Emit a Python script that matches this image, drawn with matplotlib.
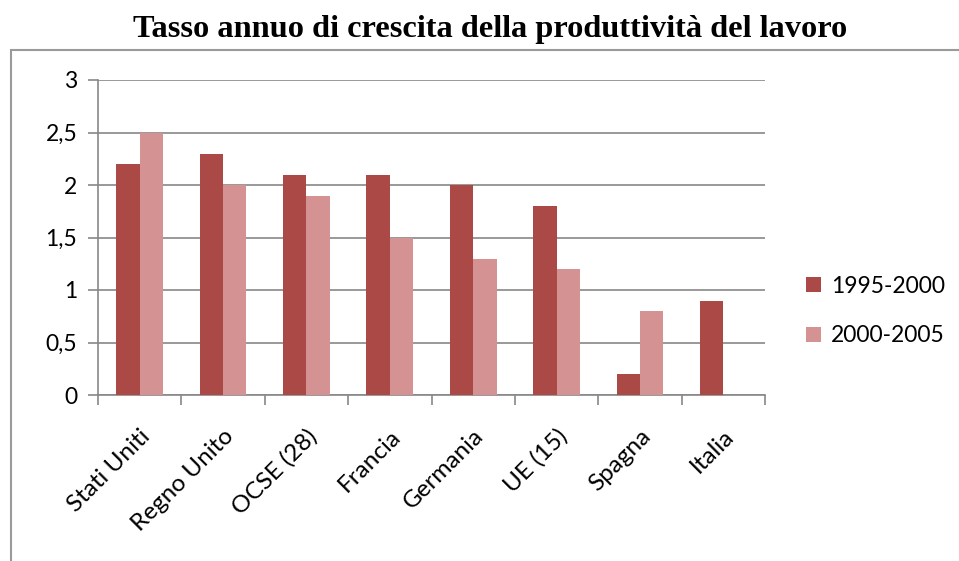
import matplotlib.pyplot as plt
import numpy as np
from matplotlib.patches import Rectangle
from matplotlib.ticker import FuncFormatter, MultipleLocator

paesi = ["Stati Uniti", "Regno Unito", "OCSE (28)", "Francia", "Germania",
         "UE (15)", "Spagna", "Italia"]
serie_1995_2000 = [2.2, 2.3, 2.1, 2.1, 2.0, 1.8, 0.2, 0.9]
serie_2000_2005 = [2.5, 2.0, 1.9, 1.5, 1.3, 1.2, 0.8, 0.0]
etichette_serie = ["1995-2000", "2000-2005"]

scuro = "#AA4946"
chiaro = "#D49392"
grigio = "#888888"

plt.rcParams['font.family'] = ['Lato', 'DejaVu Sans']

fig = plt.figure(figsize=(9.59, 5.61), dpi=100)

# cornice esterna del grafico
fig.patches.append(Rectangle((11 / 959, -0.1), 1.2, 1 - 50 / 561 + 0.1,
                             transform=fig.transFigure, fill=False,
                             edgecolor="#9a9a9a", linewidth=1.5))

ax = fig.add_axes([98 / 959, 1 - 395 / 561, (765 - 98) / 959, (395 - 80) / 561])

x = np.arange(len(paesi))
w = 0.28
ax.bar(x - w / 2, serie_1995_2000, w, color=scuro, label=etichette_serie[0], zorder=3)
ax.bar(x + w / 2, serie_2000_2005, w, color=chiaro, label=etichette_serie[1], zorder=3)

ax.set_xlim(-0.5, len(paesi) - 0.5)
ax.set_ylim(0, 3)
ax.yaxis.set_major_locator(MultipleLocator(0.5))
ax.yaxis.set_major_formatter(FuncFormatter(lambda v, p: f"{v:g}".replace(".", ",")))
ax.grid(axis="y", color=grigio, linewidth=1.2, zorder=0)

ax.set_xticks(np.arange(-0.5, len(paesi)), minor=False)
ax.set_xticklabels([])
ax.set_xticks(x, minor=True)
ax.set_xticklabels(paesi, minor=True, rotation=45, ha="right", va="top",
                   rotation_mode="anchor", fontsize=17.5)
ax.tick_params(axis="x", which="minor", length=0, pad=22)
ax.tick_params(axis="x", which="major", length=7, color=grigio, width=1.2)
ax.tick_params(axis="y", length=7, color=grigio, width=1.2, labelsize=16.5, pad=8)

for s in ["top", "right"]:
    ax.spines[s].set_visible(False)
for s in ["left", "bottom"]:
    ax.spines[s].set_color(grigio)
    ax.spines[s].set_linewidth(1.2)

ax.legend(loc="center left", bbox_to_anchor=(806 / 959, 1 - 311 / 561),
          bbox_transform=fig.transFigure, frameon=False,
          fontsize=16.5, handlelength=0.65, handleheight=0.65, labelspacing=1.25,
          handletextpad=0.45, borderpad=0, borderaxespad=0)

fig.text(490 / 959, 1 - 37 / 561, "Tasso annuo di crescita della produttività del lavoro",
         ha="center", va="baseline", fontsize=23.3, fontweight="bold",
         family="Liberation Serif")

fig.savefig("out.png", dpi=100)
